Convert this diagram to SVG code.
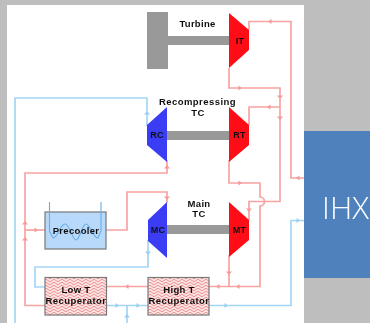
<svg xmlns="http://www.w3.org/2000/svg" width="370" height="323" viewBox="0 0 370 323">
<style>
.hot{fill:none;stroke:#f7a3a3;stroke-width:1.7}
.cold{fill:none;stroke:#a3d6f6;stroke-width:1.7}
.ah{fill:#f59a9a}
.ac{fill:#97d0f2}
.sh{fill:#999}
.red{fill:#ff0f14}
.blu{fill:#3a3cf5}
.box{stroke:#777;stroke-width:1.2}
text{font-family:"Liberation Sans",Arial,sans-serif;font-weight:bold;font-size:9.500px;fill:#111;text-anchor:middle;letter-spacing:.3px}
.wide{letter-spacing:.45px}
.tag{font-size:9px}
</style>
<defs>
<filter id="soft" x="0" y="0" width="100%" height="100%"><feGaussianBlur stdDeviation="0.35"/></filter>
<pattern id="zig" width="8" height="6" patternUnits="userSpaceOnUse">
<rect width="8" height="6" fill="#fbe4e4"/>
<path d="M0 1.5Q2 4 4 1.5T8 1.5M0 4.5Q2 7 4 4.5T8 4.5" fill="none" stroke="#ef8f8f" stroke-width="1"/>
</pattern>
<path id="l" d="M-2 0L1.500 -2.500V2.500Z"/>
<path id="r" d="M2 0L-1.500 -2.500V2.500Z"/>
<path id="u" d="M0 -2L-3 1.500H3Z"/>
<path id="d" d="M0 2L-3 -1.500H3Z"/>
</defs>
<rect width="370" height="323" fill="#bebebe"/>
<g filter="url(#soft)">
<rect x="7" y="5" width="297" height="318" fill="#fff"/>
<g id="connectors">
<path class="hot" d="M249 30V21.500H291V178H304"/>
<path class="hot" d="M229 68V88H280V201.500H249V220"/>
<path class="hot" d="M280 107H249V125"/>
<path class="hot" d="M229 160V183H260V197A4.500 4.500 0 0 1 260 206V286.500H209"/>
<path class="hot" d="M229 255V286.500"/>
<path class="hot" d="M167 160V173H25V305.500H45"/>
<path class="hot" d="M25 230H45"/>
<path class="hot" d="M106 230H127V192H167V203"/>
<path class="hot" d="M106 286.500H148"/>
<path class="cold" d="M15 323V98H147V126"/>
<path class="cold" d="M148 240V267H35V287H45"/>
<path class="cold" d="M106 305.500H148"/>
<path class="cold" d="M127 323V305.500"/>
<path class="cold" d="M209 305.500H291V220.500H304"/>
<use href="#l" class="ah" x="270" y="21.500"/>
<use href="#r" class="ah" x="240" y="88"/>
<use href="#d" class="ah" x="280" y="97"/>
<use href="#l" class="ah" x="269" y="107"/>
<use href="#d" class="ah" x="280" y="118"/>
<use href="#l" class="ah" x="298" y="178"/>
<use href="#r" class="ah" x="240" y="183"/>
<use href="#d" class="ah" x="249" y="210"/>
<use href="#d" class="ah" x="229" y="273"/>
<use href="#l" class="ah" x="238" y="286.500"/>
<use href="#l" class="ah" x="218" y="286.500"/>
<use href="#u" class="ah" x="25" y="223"/>
<use href="#u" class="ah" x="25" y="239"/>
<use href="#r" class="ah" x="36" y="230"/>
<use href="#d" class="ah" x="167" y="198"/>
<use href="#u" class="ah" x="167" y="167"/>
<use href="#l" class="ah" x="127" y="286.500"/>
<use href="#u" class="ac" x="147" y="113"/>
<use href="#d" class="ac" x="148" y="253"/>
<use href="#r" class="ac" x="117" y="305.500"/>
<use href="#r" class="ac" x="138" y="305.500"/>
<use href="#u" class="ac" x="127" y="316"/>
<use href="#r" class="ac" x="226" y="305.500"/>
<use href="#r" class="ac" x="298" y="220.500"/>
</g>
<g id="turbine">
<rect class="sh" x="147" y="12" width="21" height="57"/>
<rect class="sh" x="168" y="36" width="61" height="9"/>
<text x="197.500" y="27">Turbine</text>
</g>
<g id="it">
<path class="red" d="M229 13L249 30V50L229 68Z"/>
<text class="tag" x="240" y="44">IT</text>
</g>
<g id="recompressing-tc">
<rect class="sh" x="167" y="131" width="62" height="9"/>
<text class="wide" x="197.500" y="105">Recompressing</text>
<text x="198" y="115.500">TC</text>
</g>
<g id="rc">
<path class="blu" d="M167 107L147 125V145L167 162Z"/>
<text class="tag" x="157" y="138">RC</text>
</g>
<g id="rt">
<path class="red" d="M229 107L249 125V145L229 162Z"/>
<text class="tag" x="239.500" y="138">RT</text>
</g>
<g id="main-tc">
<rect class="sh" x="167" y="225" width="62" height="9"/>
<text x="199" y="207">Main</text>
<text x="199" y="217">TC</text>
</g>
<g id="mc">
<path class="blu" d="M167 202L148 220V241L167 258Z"/>
<text class="tag" x="158" y="233">MC</text>
</g>
<g id="mt">
<path class="red" d="M229 202L249 220V240L229 257Z"/>
<text class="tag" x="239.500" y="233">MT</text>
</g>
<g id="precooler">
<rect class="box" x="45" y="212" width="61" height="37" fill="#b8d9f9"/>
<path fill="none" stroke="#6aaee8" stroke-width="1.100" d="M49.500 202V231L53 238C58 238 60 224 65 224S72 240 76 240S82 224 86 224S93 238 98 238L101 231V202"/>
<text x="76" y="234">Precooler</text>
</g>
<g id="low-t-recuperator">
<rect class="box" x="45" y="277.500" width="61.500" height="37.500" fill="url(#zig)"/>
<text x="76" y="293">Low T</text>
<text class="wide" x="76" y="303.500">Recuperator</text>
</g>
<g id="high-t-recuperator">
<rect class="box" x="148" y="277.500" width="61" height="37.500" fill="url(#zig)"/>
<text x="179" y="293">High T</text>
<text class="wide" x="179" y="303.500">Recuperator</text>
</g>
<g id="ihx">
<rect x="304" y="131" width="66" height="147" fill="#4f81bd"/>
<text x="345.500" y="219" style="font-family:'Open Sans','Noto Sans',sans-serif;font-weight:300;font-size:31px;fill:#fff;letter-spacing:0">IHX</text>
</g>
</g>
</svg>
